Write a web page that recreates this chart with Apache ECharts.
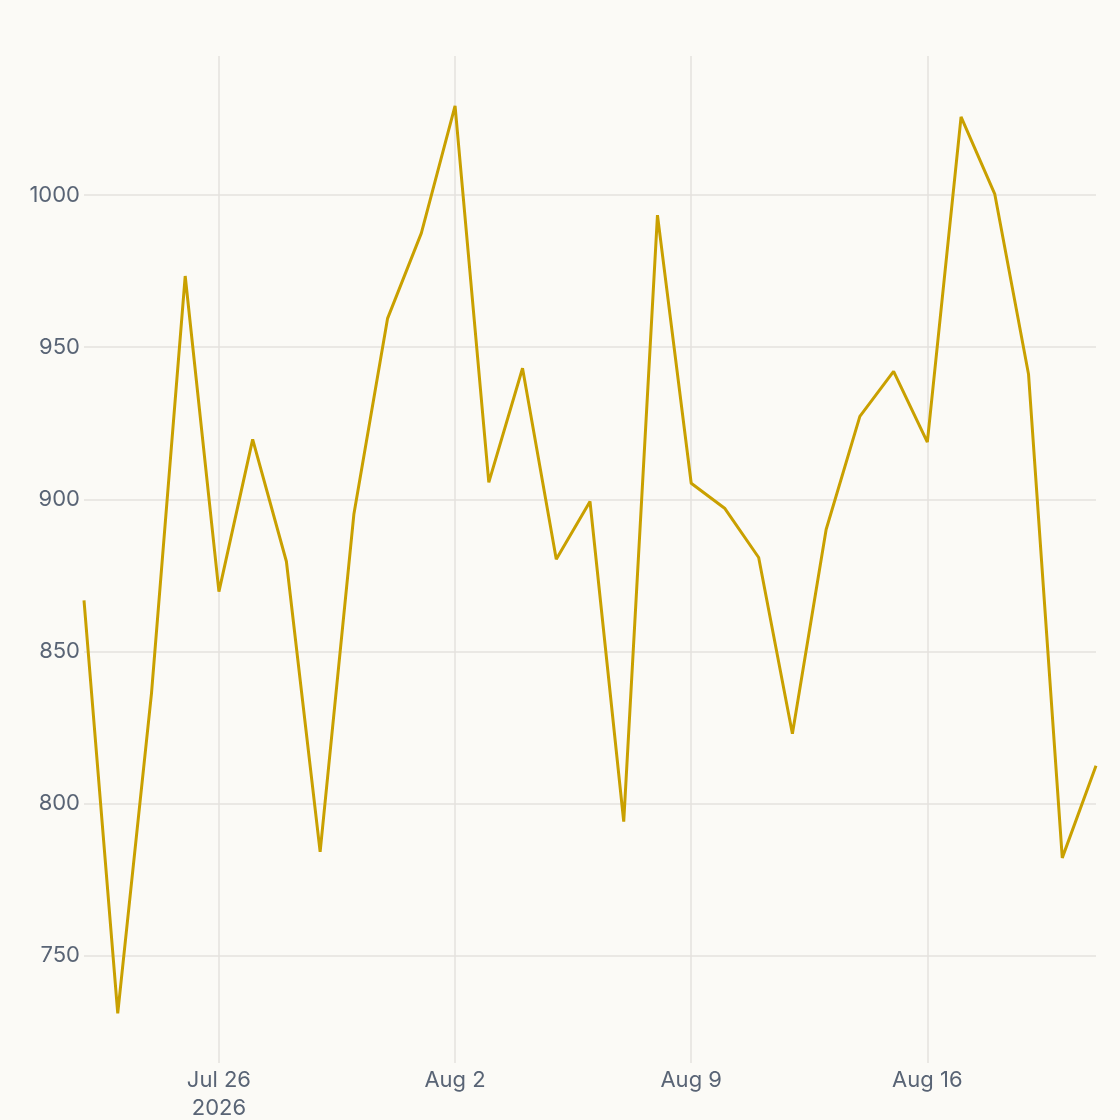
<!DOCTYPE html>
<html><head><meta charset="utf-8">
<script src="https://cdn.jsdelivr.net/npm/echarts@6/dist/echarts.min.js"></script>
<style>html,body{margin:0;padding:0;background:#FBFAF6}#c{width:1120px;height:1120px}</style>
</head><body><div id="c"></div>
<script>
const dates = [
  '2026-07-22','2026-07-23','2026-07-24','2026-07-25','2026-07-26','2026-07-27','2026-07-28','2026-07-29','2026-07-30','2026-07-31',
  '2026-08-01','2026-08-02','2026-08-03','2026-08-04','2026-08-05','2026-08-06','2026-08-07','2026-08-08','2026-08-09','2026-08-10',
  '2026-08-11','2026-08-12','2026-08-13','2026-08-14','2026-08-15','2026-08-16','2026-08-17','2026-08-18','2026-08-19','2026-08-20',
  '2026-08-21'
];
const values = [
  866.8, 731.1, 836.2, 973.4, 869.7, 919.7, 879.6, 784.2, 895.1, 959.5,
  987.5, 1029.3, 905.6, 943.1, 880.3, 899.3, 794.1, 993.4, 905.3, 897.0,
  880.9, 823.0, 890.1, 927.3, 942.1, 918.8, 1025.7, 1000.3, 941.1, 782.2,
  812.5
];
const tickDates = ['2026-07-26','2026-08-02','2026-08-09','2026-08-16'];
const tickLabels = ['Jul 26\n2026','Aug 2','Aug 9','Aug 16'];
const yMin = 714.8, yMax = 1045.7;

const chart = echarts.init(document.getElementById('c'), null, {renderer: 'canvas'});
const isTick = (idx, val) => tickDates.indexOf(val) >= 0;
chart.setOption({
  backgroundColor: '#FBFAF6',
  animation: false,
  textStyle: {fontFamily: 'Inter'},
  grid: {left: 84, right: 24, top: 56, bottom: 57, containLabel: false, outerBoundsMode: 'none'},
  xAxis: {
    type: 'category',
    data: dates,
    boundaryGap: false,
    axisLine: {show: false},
    axisTick: {show: false},
    axisLabel: {
      interval: isTick,
      formatter: (val) => { const i = tickDates.indexOf(val); return i >= 0 ? tickLabels[i] : ''; },
      color: '#596475', fontSize: 22, fontFamily: 'Inter', margin: 3, lineHeight: 28
    },
    splitLine: {show: true, interval: isTick, lineStyle: {color: '#E4E2DE', width: 1.5}}
  },
  yAxis: {
    type: 'value',
    min: yMin, max: yMax,
    splitNumber: 5,
    axisLine: {show: false},
    axisTick: {show: false},
    axisLabel: {
      color: '#596475', fontSize: 22, fontFamily: 'Inter', margin: 4,
      formatter: (v) => (Math.abs(v % 50) < 1e-6 ? String(v) : '')
    },
    splitLine: {show: true, showMinLine: false, showMaxLine: false, lineStyle: {color: '#E4E2DE', width: 1.5}}
  },
  series: [{
    type: 'line',
    data: values,
    symbol: 'none',
    lineStyle: {color: '#C9A000', width: 3},
    silent: true
  }]
});
</script>
</body></html>
